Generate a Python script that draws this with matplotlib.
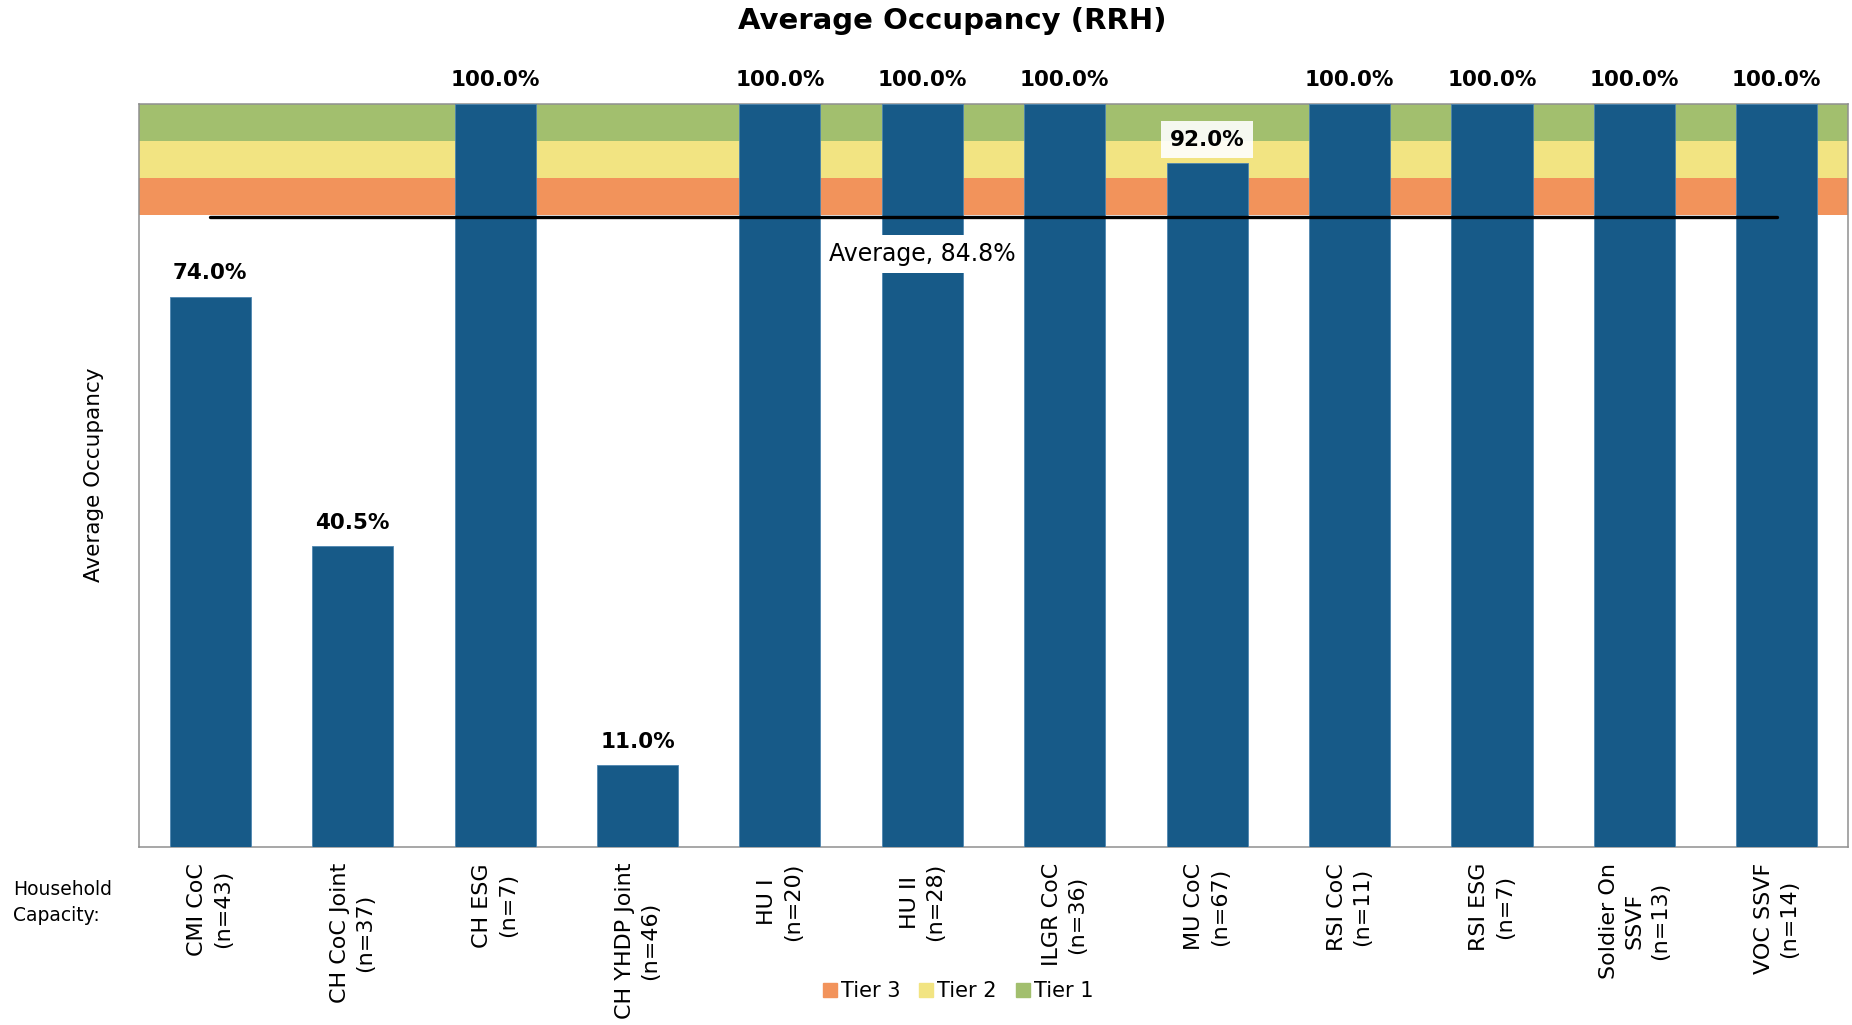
import matplotlib.pyplot as plt
import numpy as np
from matplotlib.patches import Patch

programs = ["CMI CoC", "CH CoC Joint", "CH ESG", "CH YHDP Joint", "HU I", "HU II",
            "ILGR CoC", "MU CoC", "RSI CoC", "RSI ESG", "Soldier On\nSSVF", "VOC SSVF"]
capacity = [43, 37, 7, 46, 20, 28, 36, 67, 11, 7, 13, 14]
occupancy = [74.0, 40.5, 100.0, 11.0, 100.0, 100.0, 100.0, 92.0, 100.0, 100.0, 100.0, 100.0]

# tier bands (lower, upper, colour, label)
tier_names = ["Tier 3", "Tier 2", "Tier 1"]
tier_low = [85, 90, 95]
tier_high = [90, 95, 100]
tier_colors = ["#F2935B", "#F2E482", "#A2BF6E"]

bar_color = "#175A88"
average = np.mean(occupancy)

fig = plt.figure(figsize=(18.52, 10.25), dpi=100)
ax = fig.add_axes([0.0751, 0.1737, 0.9227, 0.7253])

x = np.arange(len(programs))
for lo, hi, c in zip(tier_low, tier_high, tier_colors):
    ax.axhspan(lo, hi, color=c, zorder=1, lw=0)

ax.bar(x, occupancy, width=0.57, color=bar_color, edgecolor="#4f86b0", linewidth=0.6, zorder=3)

for xi, v in zip(x, occupancy):
    ax.annotate("{:.1f}%".format(v), (xi, v), xytext=(0, 12.5), textcoords="offset points",
                ha="center", va="baseline", fontsize=15.5, fontweight="bold", zorder=6,
                annotation_clip=False,
                bbox=dict(boxstyle="square,pad=0.4", fc="white", ec="none", alpha=0.9))

ax.plot([x[0], x[-1]], [average, average], color="black", lw=2.4, zorder=4, solid_capstyle="round")
ax.text(5, 79.8, "Average, {:.1f}%".format(average), ha="center", va="center", fontsize=17, zorder=5,
        bbox=dict(boxstyle="square,pad=0.3", fc="white", ec="none"))

ax.set_xlim(-0.5, len(programs) - 0.5)
ax.set_ylim(0, 100)
ax.set_yticks([])
ax.set_xticks(x)
ax.set_xticklabels(["{}\n(n={})".format(p, n) for p, n in zip(programs, capacity)],
                   rotation=90, fontsize=16, multialignment="center", linespacing=1.35)
ax.tick_params(axis="x", length=0, pad=11.5)
for s in ax.spines.values():
    s.set_color("#8f8f8f")
    s.set_linewidth(1.1)

fig.text(952.5 / 1852, 1 - 21 / 1025, "Average Occupancy (RRH)", ha="center", va="center",
         fontsize=21, fontweight="bold")
fig.text(94 / 1852, 1 - 475 / 1025, "Average Occupancy", rotation=90, ha="center", va="center",
         fontsize=15.5)
fig.text(13 / 1852, 1 - 880 / 1025, "Household\nCapacity:", ha="left", va="top", fontsize=13.5,
         linespacing=1.45)

handles = [Patch(color=c) for c in tier_colors]
fig.legend(handles, tier_names, loc="center", bbox_to_anchor=(958 / 1852, 1 - 991 / 1025),
           ncol=3, frameon=False, fontsize=15, handlelength=0.67, handleheight=0.67,
           handletextpad=0.2, columnspacing=0.9)

fig.savefig("out.png", dpi=100)
